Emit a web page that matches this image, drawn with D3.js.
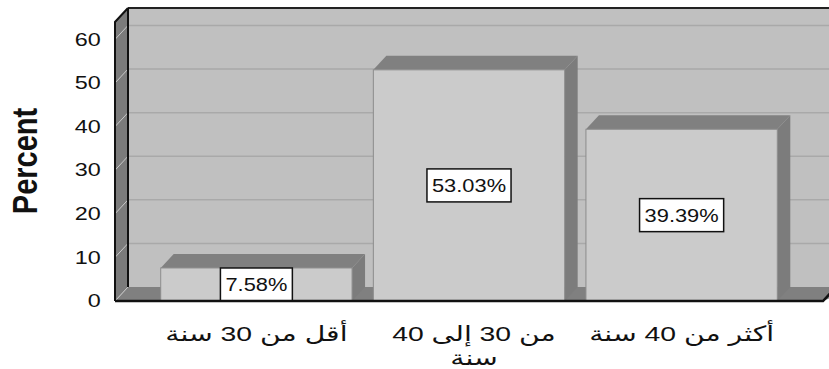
<!DOCTYPE html>
<html><head><meta charset="utf-8">
<script src="https://cdn.jsdelivr.net/npm/d3@7"></script>
<style>body{margin:0;background:#fff}svg{display:block}</style>
</head><body>
<svg id="chart" width="829" height="369"></svg>
<script>
const categories = ["أقل من 30 سنة", "من 30 إلى 40 سنة", "أكثر من 40 سنة"];
const labelLines = [["أقل من 30 سنة"], ["من 30 إلى 40", "سنة"], ["أكثر من 40 سنة"]];
const percents = [7.58, 53.03, 39.39];
const yTicks = [0, 10, 20, 30, 40, 50, 60];
const yMax = 64;
const yTitle = "Percent";

const svg = d3.select("#chart");
const X0 = 115, X1 = 823, Y0 = 301, DX = 13, DY = 14;
const FONT = "'Liberation Sans', Arial, 'DejaVu Sans', sans-serif";

const y = d3.scaleLinear().domain([0, yMax]).range([Y0, 22]);
const x = d3.scaleBand().domain(categories).range([X0, X1]).paddingInner(0.1).paddingOuter(0.215);
const Ytop = y(yMax);

// back wall
svg.append("rect").attr("x", X0 + DX).attr("y", Ytop - DY).attr("width", 900).attr("height", Y0 - Ytop)
  .attr("fill", "#c0c0c0");
svg.selectAll(".bgrid").data(yTicks.filter(t => t > 0)).join("line")
  .attr("x1", X0 + DX).attr("x2", 900)
  .attr("y1", d => y(d) - DY).attr("y2", d => y(d) - DY)
  .attr("stroke", "#a9a9a9").attr("stroke-width", 1.5);
svg.append("line").attr("x1", X0 + DX).attr("x2", 900).attr("y1", Ytop - DY).attr("y2", Ytop - DY)
  .attr("stroke", "#222").attr("stroke-width", 2);

// floor
svg.append("polygon")
  .attr("points", [[X0, Y0], [X0 + DX, Y0 - DY], [X1 + DX + 20, Y0 - DY], [X1, Y0]].map(p => p.join(",")).join(" "))
  .attr("fill", "#808080");

// left wall
svg.append("polygon")
  .attr("points", [[X0, Ytop], [X0 + DX, Ytop - DY], [X0 + DX, Y0 - DY], [X0, Y0]].map(p => p.join(",")).join(" "))
  .attr("fill", "#7b7b7b");
svg.selectAll(".lgrid").data(yTicks).join("line")
  .attr("x1", X0).attr("x2", X0 + DX)
  .attr("y1", d => y(d)).attr("y2", d => y(d) - DY)
  .attr("stroke", "#c8c8c8").attr("stroke-width", 1);
svg.append("line").attr("x1", X0 + DX).attr("x2", X0 + DX).attr("y1", Ytop - DY).attr("y2", Y0 - DY)
  .attr("stroke", "#111").attr("stroke-width", 2);
svg.append("path")
  .attr("d", `M${X0},${Y0}L${X0},${Ytop}L${X0 + DX},${Ytop - DY}`)
  .attr("fill", "none").attr("stroke", "#111").attr("stroke-width", 2);

// bars
const bars = svg.selectAll(".bar").data(categories.map((c, i) => ({c, v: percents[i]}))).join("g");
bars.append("polygon").attr("points", d => {
  const x0 = x(d.c), w = x.bandwidth(), yv = y(d.v);
  return [[x0 + w, yv], [x0 + w + DX, yv - DY], [x0 + w + DX, Y0 - DY], [x0 + w, Y0]].map(p => p.join(",")).join(" ");
}).attr("fill", "#7c7c7c");
bars.append("polygon").attr("points", d => {
  const x0 = x(d.c), w = x.bandwidth(), yv = y(d.v);
  return [[x0, yv], [x0 + DX, yv - DY], [x0 + w + DX, yv - DY], [x0 + w, yv]].map(p => p.join(",")).join(" ");
}).attr("fill", "#808080");
bars.append("rect")
  .attr("x", d => x(d.c)).attr("y", d => y(d.v))
  .attr("width", x.bandwidth()).attr("height", d => Y0 - y(d.v))
  .attr("fill", "#cbcbcb").attr("stroke", "#8c8c8c").attr("stroke-width", 1);

// floor front edge
svg.append("path")
  .attr("d", `M${X0},${Y0}L${X1},${Y0}L${X1 + DX},${Y0 - DY}`)
  .attr("fill", "none").attr("stroke", "#111").attr("stroke-width", 2.5);

// value labels
const SXV = 1.15;
bars.each(function(d) {
  const g = d3.select(this);
  const cx = x(d.c) + x.bandwidth() / 2, cy = (y(d.v) + Y0) / 2;
  const lg = g.append("g").attr("transform", `translate(${cx},${cy})`);
  const rect = lg.append("rect");
  const t = lg.append("text").attr("transform", `scale(${SXV},1)`)
    .attr("text-anchor", "middle").attr("dy", "0.36em")
    .attr("font-family", FONT).attr("font-size", 19).attr("fill", "#111")
    .text(d.v.toFixed(2) + "%");
  const w = t.node().getComputedTextLength() * SXV + 10;
  rect.attr("x", -w / 2).attr("y", -16.5).attr("width", w).attr("height", 33)
    .attr("fill", "#fff").attr("stroke", "#111").attr("stroke-width", 1.5);
});

// y axis
const SXT = 1.3;
const yAxis = svg.append("g").attr("transform", `translate(${X0},0)`)
  .call(d3.axisLeft(y).tickValues(yTicks).tickSize(0).tickPadding(11));
yAxis.select(".domain").remove();
yAxis.selectAll("text").attr("font-family", FONT).attr("font-size", 18).attr("fill", "#111")
  .attr("transform", `scale(${SXT},1)`);

// x axis
const SXX = 1.35;
const xAxis = svg.append("g").attr("transform", `translate(0,${Y0})`)
  .call(d3.axisBottom(x).tickSize(0).tickFormat(""));
xAxis.select(".domain").remove();
xAxis.selectAll(".tick").each(function(d, i) {
  const t = d3.select(this).append("text")
    .attr("text-anchor", "middle").attr("direction", "rtl")
    .attr("font-family", FONT).attr("font-size", 21).attr("fill", "#111")
    .attr("transform", `translate(${labelLines[i].length > 1 ? 5 : 0},0) scale(${SXX},1)`);
  labelLines[i].forEach((ln, k) => {
    t.append("tspan").attr("x", 0).attr("y", 40 + k * 24).text(ln);
  });
});

// y title
svg.append("text")
  .attr("transform", `translate(37,161) scale(1.19,1) rotate(-90)`)
  .attr("text-anchor", "middle").attr("font-family", FONT)
  .attr("font-weight", "bold").attr("font-size", 29).attr("fill", "#111")
  .text(yTitle);
</script>
</body></html>
